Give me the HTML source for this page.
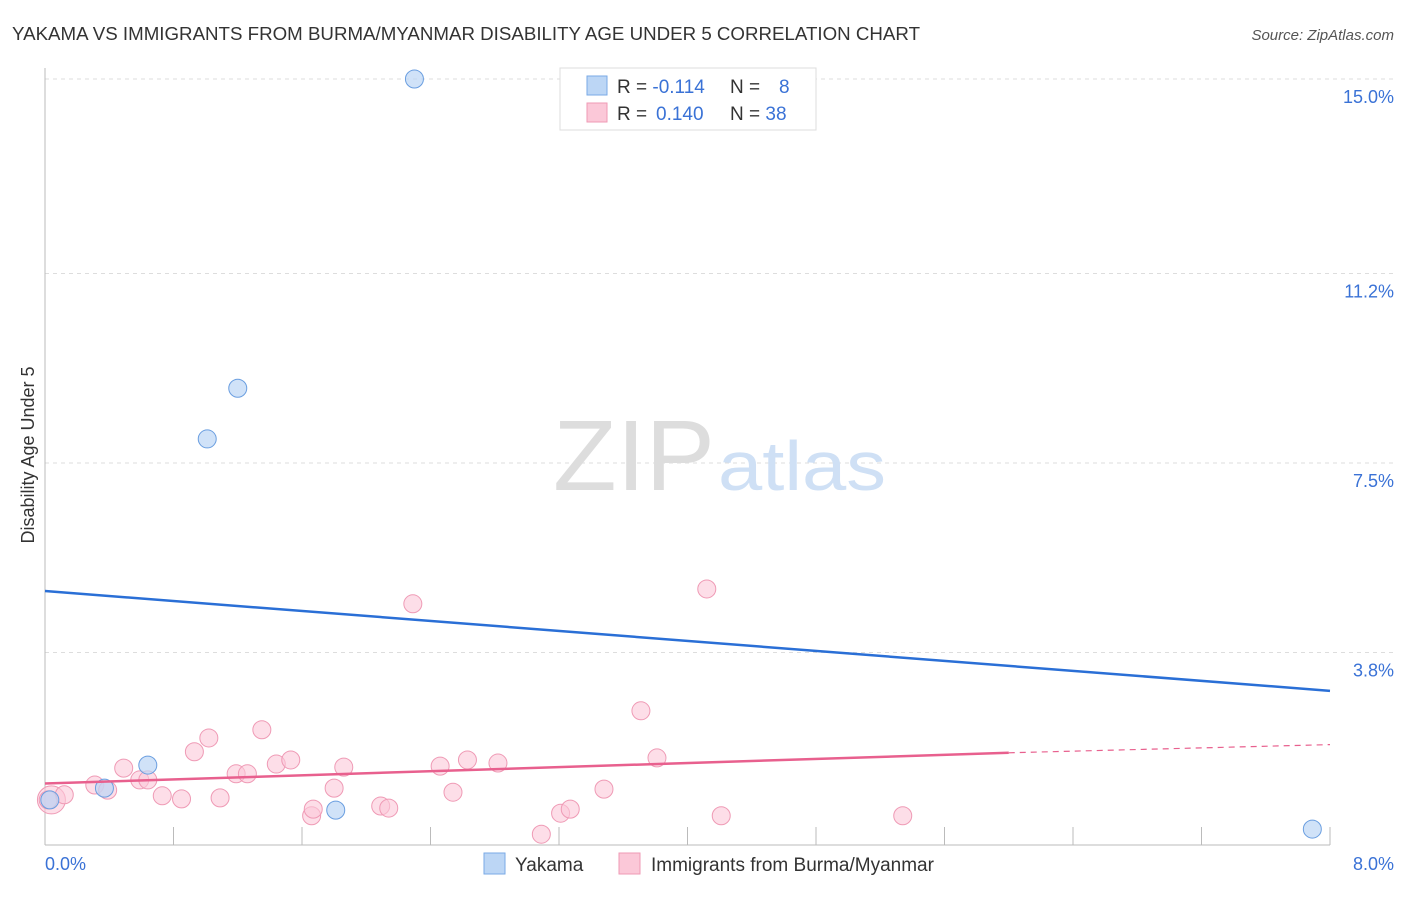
<!DOCTYPE html>
<html><head><meta charset="utf-8"><style>
body{margin:0;background:#fff;font-family:"Liberation Sans",sans-serif;}
svg text{font-family:"Liberation Sans",sans-serif;}
</style></head><body>
<svg width="1406" height="892" xmlns="http://www.w3.org/2000/svg">
<text x="12" y="40" font-size="18" fill="#333" textLength="908" lengthAdjust="spacingAndGlyphs">YAKAMA VS IMMIGRANTS FROM BURMA/MYANMAR DISABILITY AGE UNDER 5 CORRELATION CHART</text>
<text x="1394" y="40" font-size="15" fill="#555" font-style="italic" text-anchor="end">Source: ZipAtlas.com</text>
<g id="grid"></g>
<text x="553" y="490" font-size="100" fill="#ddd" font-family="Liberation Serif" textLength="162" lengthAdjust="spacingAndGlyphs">ZIP</text>
<text x="718" y="490" font-size="70" fill="#cfe0f5" textLength="168" lengthAdjust="spacingAndGlyphs">atlas</text>
<line x1="45" y1="68" x2="45" y2="845" stroke="#bbb"/>
<line x1="45" y1="845" x2="1330" y2="845" stroke="#bbb"/>
<g id="xticks"></g>
<text x="45" y="870" font-size="18" fill="#3a72d6">0.0%</text>
<text x="1394" y="870" font-size="18" fill="#3a72d6" text-anchor="end">8.0%</text>
<text transform="translate(34,455) rotate(-90)" font-size="18" fill="#333" text-anchor="middle">Disability Age Under 5</text>
<g id="pts"></g>
<g id="trends"></g>
<g>
<rect x="560" y="68" width="256" height="62" fill="#fff" stroke="#ddd"/>
<rect x="587" y="76" width="20" height="19" fill="#bcd6f5" stroke="#7aaae6"/>
<rect x="587" y="103" width="20" height="19" fill="#fbc8d8" stroke="#ef9ab5"/>
<text x="617" y="93" font-size="19" fill="#333">R = <tspan fill="#3a72d6">-0.114</tspan></text>
<text x="730" y="93" font-size="19" fill="#333">N = <tspan fill="#3a72d6" x="779">8</tspan></text>
<text x="617" y="120" font-size="19" fill="#333">R = <tspan fill="#3a72d6" x="656">0.140</tspan></text>
<text x="730" y="120" font-size="19" fill="#333">N = <tspan fill="#3a72d6">38</tspan></text>
</g>
<g>
<rect x="484" y="853" width="21" height="21" fill="#bcd6f5" stroke="#7aaae6"/>
<text x="515" y="871" font-size="19" fill="#333">Yakama</text>
<rect x="619" y="853" width="21" height="21" fill="#fbc8d8" stroke="#ef9ab5"/>
<text x="651" y="871" font-size="19" fill="#333">Immigrants from Burma/Myanmar</text>
</g>
</svg>
<script>
const yTicks=[3.8,7.5,11.2,15.0];
const yTickLabels=["3.8%","7.5%","11.2%","15.0%"];
const xTicks=[0.8,1.6,2.4,3.2,4.0,4.8,5.6,6.4,7.2,8.0];
const yakamaX=[2.30,1.20,1.01,0.64,0.37,0.03,1.81,7.89];
const yakamaY=[15.0,8.96,7.97,1.60,1.15,0.92,0.72,0.35];
const burmaX=[0.04,0.12,0.31,0.39,0.49,0.59,0.64,0.73,0.85,0.93,1.02,1.09,1.19,1.26,1.35,1.44,1.53,1.66,1.67,1.80,1.86,2.09,2.14,2.29,2.46,2.54,2.63,2.82,3.09,3.21,3.27,3.48,3.71,3.81,4.12,4.21,5.34,0.02];
const burmaY=[0.92,1.02,1.21,1.11,1.54,1.31,1.31,1.00,0.94,1.86,2.13,0.96,1.43,1.43,2.29,1.62,1.70,0.61,0.74,1.15,1.56,0.80,0.76,4.75,1.58,1.07,1.70,1.64,0.25,0.66,0.74,1.13,2.66,1.74,5.04,0.61,0.61,0.92];
const yakamaTrend=[5.0,3.05];
const burmaTrend=[1.24,1.84,2.0];
const X=v=>45+v/8*1285, Y=v=>847-v/3.75*192;
const NS="http://www.w3.org/2000/svg";
function mk(t,a,p){const e=document.createElementNS(NS,t);for(const k in a)e.setAttribute(k,a[k]);p.appendChild(e);return e;}
const grid=document.getElementById('grid');
yTicks.forEach((v,i)=>{
 const l=mk('line',{x1:45,x2:1394,y1:Y(v),y2:Y(v),stroke:'#ddd','stroke-dasharray':'4,4'},grid);
 
 
 const t=mk('text',{x:1394,y:Y(v)+24,'font-size':18,fill:'#3a72d6','text-anchor':'end'},grid);
 t.textContent=yTickLabels[i];
 
 
});
const xt=document.getElementById('xticks');
xTicks.forEach(v=>{
 const l=mk('line',{x1:X(v),x2:X(v),y1:827,y2:845,stroke:'#bbb'},xt);
 
 
});
const pts=document.getElementById('pts');
burmaX.forEach((x,i)=>{
 const c=mk('circle',{cx:X(x),cy:Y(burmaY[i]),r:i==0?14:9,fill:'#fbc8d8','fill-opacity':0.6,stroke:'#ef9ab5','stroke-width':1},pts);
 
 
});
yakamaX.forEach((x,i)=>{
 const c=mk('circle',{cx:X(x),cy:Y(yakamaY[i]),r:9,fill:'#bcd6f5','fill-opacity':0.7,stroke:'#6a9ee0','stroke-width':1},pts);
 
 
});
const tr=document.getElementById('trends');
let l=mk('line',{x1:X(0),y1:Y(yakamaTrend[0]),x2:X(8),y2:Y(yakamaTrend[1]),stroke:'#2a6fd6','stroke-width':2.5},tr);


l=mk('line',{x1:X(0),y1:Y(burmaTrend[0]),x2:X(6.0),y2:Y(burmaTrend[1]),stroke:'#e8608e','stroke-width':2.5},tr);


l=mk('line',{x1:X(6.0),y1:Y(burmaTrend[1]),x2:X(8),y2:Y(burmaTrend[2]),stroke:'#e8608e','stroke-width':1.2,'stroke-dasharray':'6,5'},tr);


</script>
</body></html>
